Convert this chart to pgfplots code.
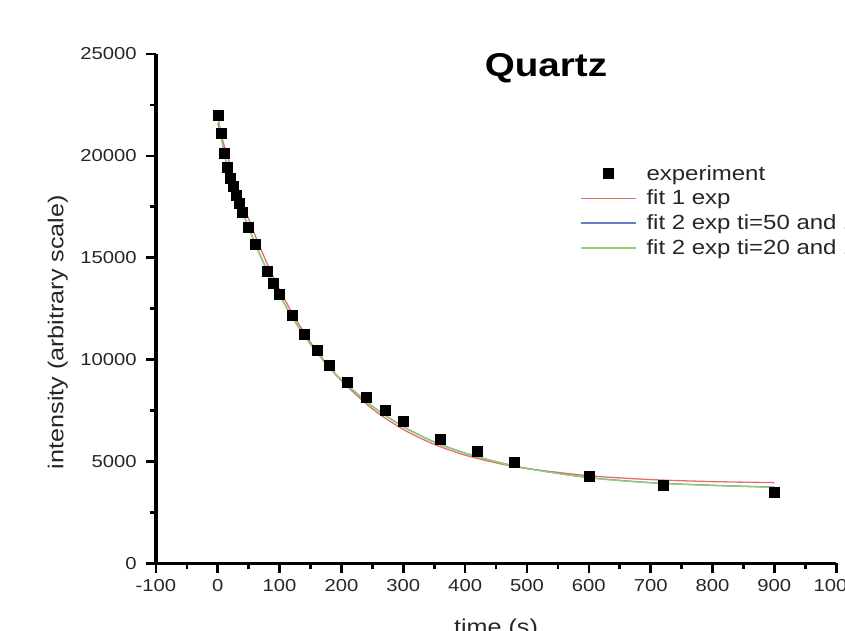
\documentclass[border=0pt]{standalone}
\usepackage{fontspec}
\setmainfont{Liberation Sans}[FakeStretch=1.17]
\usepackage{pgfplots}
\pgfplotsset{compat=1.18}
\definecolor{fitred}{RGB}{232,110,110}
\definecolor{fitblue}{RGB}{105,125,200}
\definecolor{fitgreen}{RGB}{140,210,110}
\pgfplotsset{
  linelegend/.style={legend image code/.code={\draw[##1, line width=1.3pt] (0pt,0pt) -- (55pt,0pt);}},
  marklegend/.style={legend image code/.code={\draw[##1] plot coordinates {(27.5pt,0pt)};}},
}
\begin{document}
\begin{tikzpicture}
\begin{axis}[
  at={(155.9pt,67.7pt)}, anchor=south west,
  scale only axis, width=680.3pt, height=509.3pt,
  xmin=-100, xmax=1000, ymin=0, ymax=25000,
  axis x line*=bottom, axis y line*=left,
  axis line style={line width=3.2pt, black},
  xtick={-100,0,...,1000}, ytick={0,5000,...,25000},
  minor x tick num=1, minor y tick num=1,
  tick align=outside,
  major tick length=10pt, minor tick length=6pt,
  tick style={black, line width=2.6pt},
  scaled ticks=false,
  /pgf/number format/set thousands separator={},
  /pgf/number format/assume math mode=true,
  ticklabel style={font=\fontsize{17.3}{19}\selectfont, inner sep=0pt, text=black!85},
  yticklabel style={anchor=east, xshift=-9pt},
  xticklabel style={anchor=north, yshift=-6pt},
  xlabel={time (s)},
  ylabel={intensity (arbitrary scale)},
  label style={font=\fontsize{21.5}{24}\selectfont, inner sep=0pt, text=black!85},
  xlabel style={at={(axis description cs:0.5,0)}, anchor=north, yshift=-55pt},
  ylabel style={at={(axis description cs:-0.144,0.454)}, anchor=center},
  title={Quartz},
  title style={font=\fontsize{33}{36}\selectfont\bfseries, at={(axis description cs:0.5734,0.945)}, anchor=base, inner sep=0pt},
  legend style={at={(axis description cs:0.6235,0.786)}, anchor=north west, draw=none, fill=none,
    font=\fontsize{20.5}{24}\selectfont, row sep=4.5pt, inner sep=0pt, text=black!85,
    /tikz/every odd column/.append style={column sep=8pt}},
  legend cell align=left,
]
\addplot[only marks, mark=square*, mark size=5pt, black, marklegend] coordinates {
(0,22000) (5,21100) (10,20150) (15,19420) (20,18900) (25,18490) (30,18080)
(35,17670) (40,17210) (50,16480) (60,15670) (80,14360) (90,13750) (100,13220)
(120,12190) (140,11260) (160,10470) (180,9740) (210,8900) (240,8160)
(270,7530) (300,6990) (360,6100) (420,5510) (480,4970) (600,4290)
(720,3840) (900,3500)
};
\addlegendentry{experiment}
\addplot[fitred, line width=1.3pt, smooth, linelegend] coordinates {
(0,21600) (10,20550) (20,19560) (30,18620) (40,17740) (50,16910) (60,16130)
(80,14700) (100,13430) (125,12040) (150,10850) (175,9830) (200,8960)
(250,7580) (300,6570) (350,5840) (400,5310) (450,4930) (500,4650)
(600,4300) (700,4110) (800,4010) (900,3960)
};
\addlegendentry{fit 1 exp}
\addplot[fitblue, line width=1.3pt, smooth, linelegend] coordinates {
(0,21980) (5,21080) (10,20190) (15,19500) (20,18950) (30,18100) (40,17260)
(50,16490) (60,15730) (80,14360) (100,13160) (125,11860) (150,10760)
(175,9810) (200,9010) (250,7710) (300,6710) (350,5960) (400,5410)
(450,4990) (500,4660) (600,4210) (700,3960) (800,3830) (900,3740)
};
\addlegendentry{fit 2 exp ti=50 and 150}
\addplot[fitgreen, line width=1.3pt, smooth, linelegend] coordinates {
(0,22000) (5,21100) (10,20200) (15,19500) (20,18950) (30,18100) (40,17250)
(50,16480) (60,15720) (80,14350) (100,13150) (125,11850) (150,10750)
(175,9800) (200,9000) (250,7700) (300,6700) (350,5950) (400,5400)
(450,4980) (500,4650) (600,4200) (700,3950) (800,3820) (900,3730)
};
\addlegendentry{fit 2 exp ti=20 and 150}
\end{axis}
\pgfresetboundingbox
\path[use as bounding box] (0pt,0pt) rectangle (845pt,631pt);
\end{tikzpicture}
\end{document}
